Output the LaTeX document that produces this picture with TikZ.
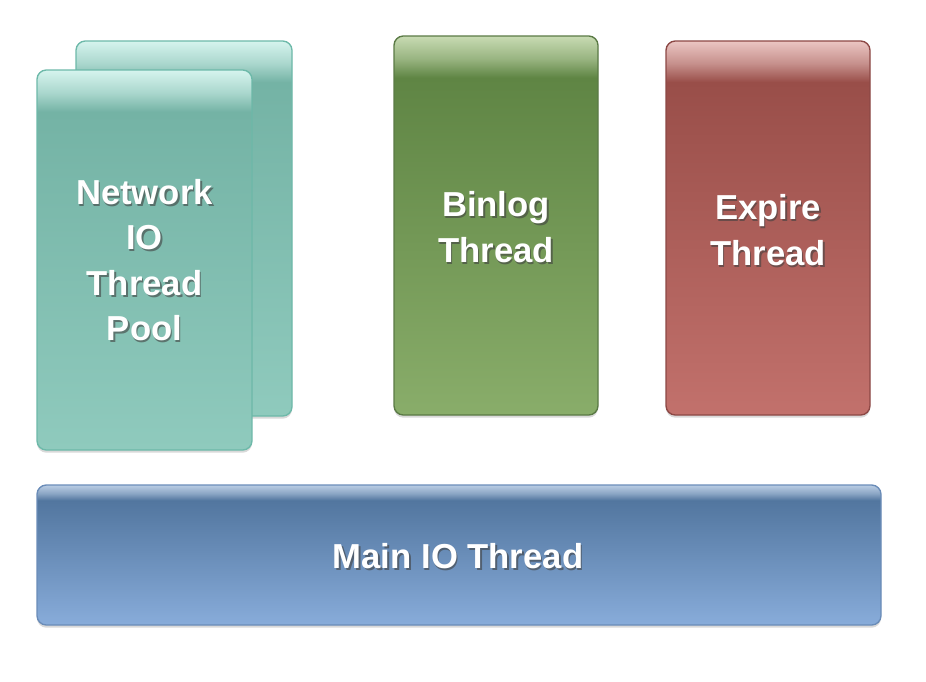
\documentclass[tikz,border=0pt]{standalone}
\usepackage{fontspec}
\setmainfont{Liberation Sans}
\usetikzlibrary{shadows}
\definecolor{tealtop}{HTML}{D6F4EE}
\definecolor{tealband}{HTML}{74B3A5}
\definecolor{tealbot}{HTML}{8FCABD}
\definecolor{tealedge}{HTML}{6DB9A9}
\definecolor{greentop}{HTML}{C8DBB3}
\definecolor{greenband}{HTML}{5F8544}
\definecolor{greenbot}{HTML}{89AD6A}
\definecolor{greenedge}{HTML}{5A7A45}
\definecolor{redtop}{HTML}{EBC6C3}
\definecolor{redband}{HTML}{994E49}
\definecolor{redbot}{HTML}{C2716C}
\definecolor{rededge}{HTML}{8C4845}
\definecolor{bluetop}{HTML}{BACDE4}
\definecolor{blueband}{HTML}{52769F}
\definecolor{bluebot}{HTML}{88ACDA}
\definecolor{blueedge}{HTML}{6A8CB8}
\colorlet{tealmid}{tealband!45!tealtop}
\colorlet{greenmid}{greenband!45!greentop}
\colorlet{redmid}{redband!45!redtop}
\colorlet{bluemid}{blueband!45!bluetop}
\pgfdeclareverticalshading{tealshade}{100bp}{color(0bp)=(tealbot); color(25bp)=(tealbot); color(69.5bp)=(tealband); color(72bp)=(tealmid); color(75bp)=(tealtop); color(100bp)=(tealtop)}
\pgfdeclareverticalshading{greenshade}{100bp}{color(0bp)=(greenbot); color(25bp)=(greenbot); color(69.5bp)=(greenband); color(72bp)=(greenmid); color(75bp)=(greentop); color(100bp)=(greentop)}
\pgfdeclareverticalshading{redshade}{100bp}{color(0bp)=(redbot); color(25bp)=(redbot); color(69.5bp)=(redband); color(72bp)=(redmid); color(75bp)=(redtop); color(100bp)=(redtop)}
\pgfdeclareverticalshading{blueshade}{100bp}{color(0bp)=(bluebot); color(25bp)=(bluebot); color(69.5bp)=(blueband); color(72bp)=(bluemid); color(75bp)=(bluetop); color(100bp)=(bluetop)}
\tikzset{
  glossbox/.style={rectangle, rounded corners=7pt, line width=1pt, inner sep=0pt,
    drop shadow={shadow xshift=0pt, shadow yshift=-2pt, opacity=0.25, fill=black!60}},
  labeltext/.style={text=white, font=\fontsize{26}{34}\selectfont\bfseries, align=center, inner sep=0pt},
  labelshadow/.style={text=black!75, text opacity=0.6, font=\fontsize{26}{34}\selectfont\bfseries, align=center, inner sep=0pt}
}
\begin{document}
\begin{tikzpicture}[x=0.75pt,y=-0.75pt]
\useasboundingbox (0,0) rectangle (926,682);
\node[glossbox, shading=tealshade, draw=tealedge, minimum width=162pt, minimum height=281.25pt] (netback) at (184,228.5) {};
\node[glossbox, shading=tealshade, draw=tealedge, minimum width=161.25pt, minimum height=285pt] (netfront) at (144.5,260) {};
\node[glossbox, shading=greenshade, draw=greenedge, minimum width=153pt, minimum height=284.25pt] (binlog) at (496,225.5) {};
\node[glossbox, shading=redshade, draw=rededge, minimum width=153pt, minimum height=280.5pt] (expire) at (768,228) {};
\node[glossbox, shading=blueshade, draw=blueedge, minimum width=633pt, minimum height=105pt] (mainio) at (459,555) {};

\node[labelshadow] (netS) at ([shift={(1.5,2)}]netfront.center) {Network\\IO\\Thread\\Pool};
\node[labeltext] (netT) at (netfront.center) {Network\\IO\\Thread\\Pool};
\node[labelshadow] (binS) at ([shift={(1.5,2)}]496,227) {Binlog\\Thread};
\node[labeltext] (binT) at (496,227) {Binlog\\Thread};
\node[labelshadow] (expS) at ([shift={(1.5,2)}]768,230) {Expire\\Thread};
\node[labeltext] (expT) at (768,230) {Expire\\Thread};
\node[labelshadow] (mainS) at ([shift={(1.5,2)}]458,556) {Main IO Thread};
\node[labeltext] (mainT) at (458,556) {Main IO Thread};
\end{tikzpicture}
\end{document}
